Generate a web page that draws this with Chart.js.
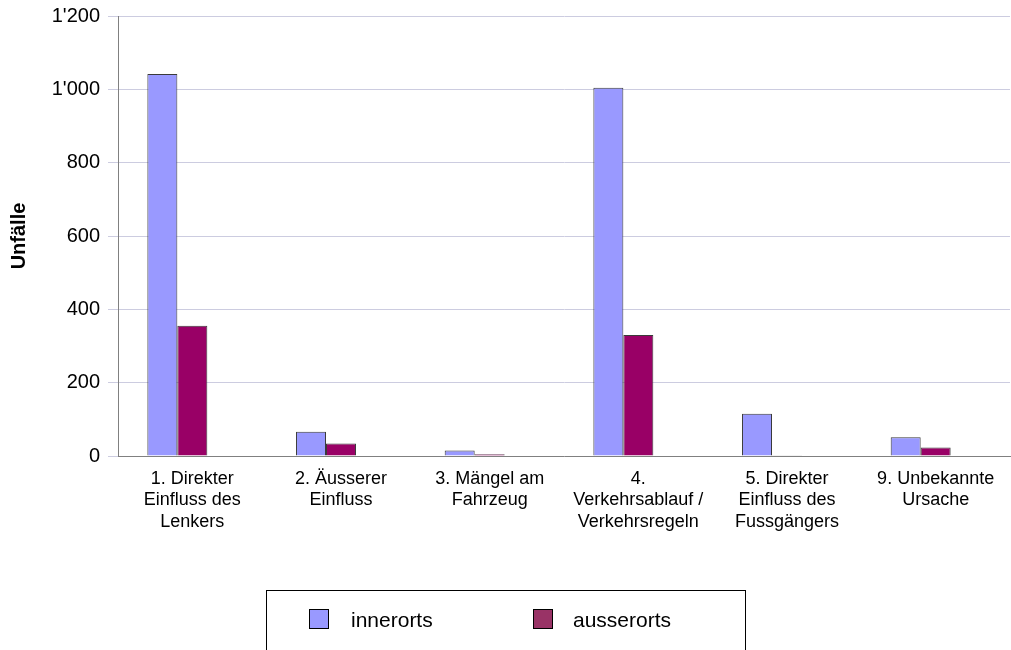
<!DOCTYPE html>
<html>
<head>
<meta charset="utf-8">
<script src="https://cdn.jsdelivr.net/npm/chart.js@4/dist/chart.umd.min.js"></script>
<style>
  html, body { margin: 0; padding: 0; background: #ffffff; }
  #wrap { width: 1011px; height: 650px; position: relative; }
</style>
</head>
<body>
<div id="wrap"><canvas id="c"></canvas></div>
<script>
const categories = [
  ["1. Direkter", "Einfluss des", "Lenkers"],
  ["2. Äusserer", "Einfluss"],
  ["3. Mängel am", "Fahrzeug"],
  ["4.", "Verkehrsablauf /", "Verkehrsregeln"],
  ["5. Direkter", "Einfluss des", "Fussgängers"],
  ["9. Unbekannte", "Ursache"]
];
const seriesNames = ["innerorts", "ausserorts"];
const innerorts = [1042, 66, 15, 1004, 115, 51];
const ausserorts = [355, 34, 5, 330, 1, 23];
const yTicks = [0, 200, 400, 600, 800, 1000, 1200];
const yTitle = "Unfälle";

const barColors = ["#9999FF", "#990066"];
const legendColors = ["#9999FF", "#993366"];
const FONT = "'Liberation Sans', Arial, sans-serif";

function fmt(v) {
  return String(v).replace(/\B(?=(\d{3})+(?!\d))/g, "'");
}

const legendBox = {
  id: 'legendBox',
  afterDraw(chart) {
    const ctx = chart.ctx;
    ctx.save();
    ctx.strokeStyle = '#000000';
    ctx.lineWidth = 1;
    ctx.strokeRect(266.5, 590.5, 479, 80);
    const items = [
      { sx: 309, tx: 351 },
      { sx: 533, tx: 573 }
    ];
    ctx.font = '21px ' + FONT;
    ctx.textBaseline = 'middle';
    ctx.textAlign = 'left';
    items.forEach((it, i) => {
      ctx.fillStyle = legendColors[i];
      ctx.fillRect(it.sx + 0.5, 609.5, 19, 19);
      ctx.strokeStyle = '#000000';
      ctx.strokeRect(it.sx + 0.5, 609.5, 19, 19);
      ctx.fillStyle = '#000000';
      ctx.fillText(chart.data.datasets[i].label, it.tx, 621);
    });
    ctx.restore();
  }
};

new Chart(document.getElementById('c'), {
  type: 'bar',
  data: {
    labels: categories,
    datasets: [
      { label: seriesNames[0], data: innerorts, backgroundColor: barColors[0], borderColor: '#3a3a3a', borderWidth: 1 },
      { label: seriesNames[1], data: ausserorts, backgroundColor: barColors[1], borderColor: '#3a3a3a', borderWidth: 1 },
      { label: '', data: [] }
    ]
  },
  options: {
    responsive: true,
    maintainAspectRatio: false,
    animation: false,
    datasets: { bar: { categoryPercentage: 0.605, barPercentage: 1.0 } },
    layout: { padding: { top: 16, right: 1, bottom: 0, left: 0 } },
    plugins: {
      legend: { display: false },
      tooltip: { enabled: false },
      title: { display: false }
    },
    scales: {
      x: {
        grid: { display: false, drawTicks: false },
        border: { color: '#808080', width: 1 },
        ticks: {
          color: '#000000',
          font: { family: FONT, size: 18, lineHeight: 1.2 },
          padding: 12,
          maxRotation: 0,
          autoSkip: false
        },
        afterFit(scale) { scale.height = 194; }
      },
      y: {
        min: 0,
        max: 1200,
        afterBuildTicks(scale) { scale.ticks = yTicks.map(v => ({ value: v })); },
        grid: { color: '#CCCCE0', lineWidth: 1, drawTicks: true, tickLength: 10, tickColor: '#CCCCE0' },
        border: { color: '#808080', width: 1 },
        ticks: {
          color: '#000000',
          font: { family: FONT, size: 20, lineHeight: 0.8 },
          padding: 8,
          callback: (v) => fmt(v)
        },
        title: {
          display: true,
          text: yTitle,
          color: '#000000',
          font: { family: FONT, size: 20, weight: 'bold', lineHeight: 1.2 },
          padding: { top: 7, bottom: 0 }
        },
        afterFit(scale) { scale.width = 118; }
      }
    }
  },
  plugins: [legendBox]
});
</script>
</body>
</html>
